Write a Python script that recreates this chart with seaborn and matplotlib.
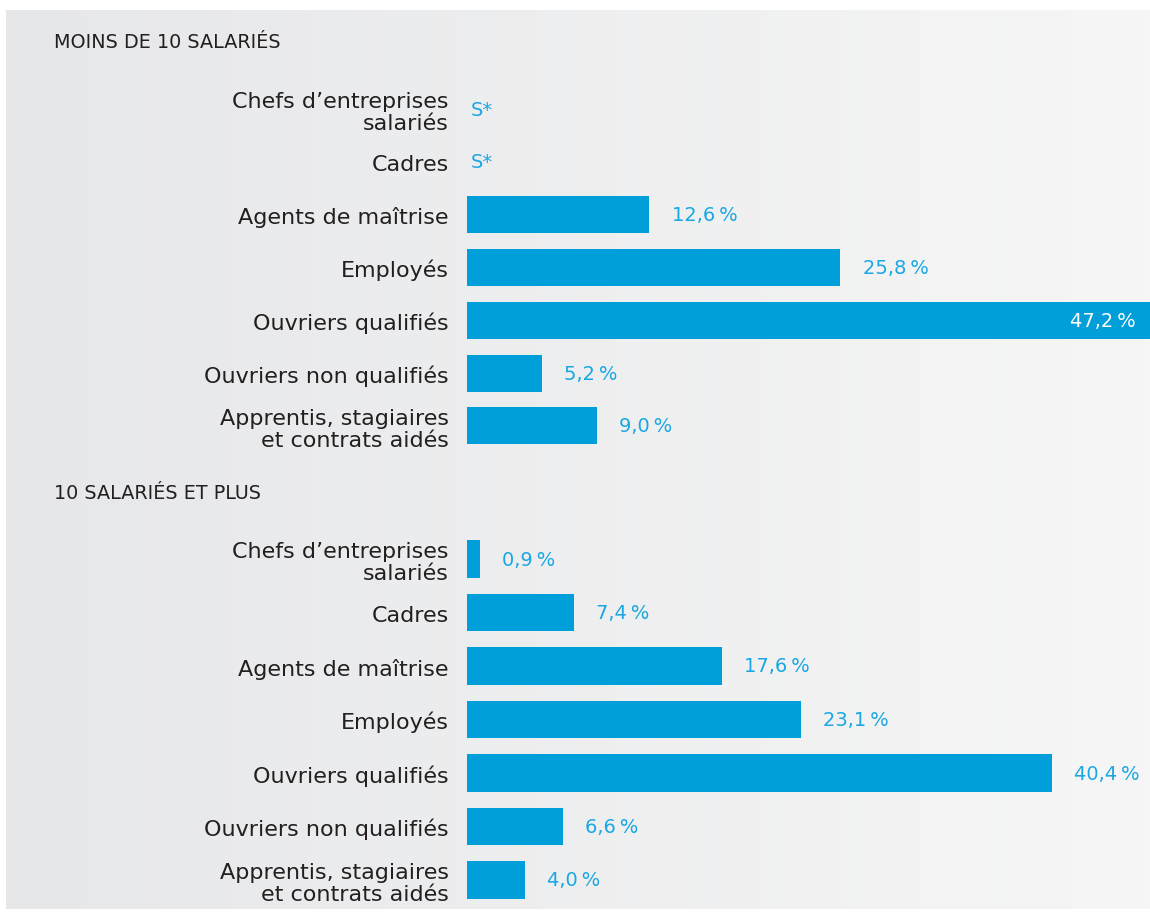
import numpy as np
import matplotlib
matplotlib.use('Agg')
import matplotlib.pyplot as plt
import seaborn as sns

categories = [
    'Chefs d\u2019entreprises\nsalariés',
    'Cadres',
    'Agents de maîtrise',
    'Employés',
    'Ouvriers qualifiés',
    'Ouvriers non qualifiés',
    'Apprentis, stagiaires\net contrats aidés',
]
# None = secret statistique (S*)
small_values = [None, None, 12.6, 25.8, 47.2, 5.2, 9.0]
large_values = [0.9, 7.4, 17.6, 23.1, 40.4, 6.6, 4.0]

panel_titles = ['MOINS DE 10 SALARIÉS', '10 SALARIÉS ET PLUS']

BAR = '#009fda'
LABEL = '#1aa7e3'
TEXT = '#231f20'

sns.set_theme(style='white')
plt.rcParams['font.family'] = ['DejaVu Sans']

fig = plt.figure(figsize=(11.5, 9.2), dpi=100)
fig.patch.set_facecolor('white')

# grey gradient panel behind everything
bg = fig.add_axes([6 / 1150, 10 / 920, 1 - 6 / 1150, 899 / 920], zorder=-10)
grad = np.linspace(0, 1, 256).reshape(1, -1)
bg.imshow(grad, aspect='auto', cmap=matplotlib.colors.LinearSegmentedColormap.from_list('g', ['#e6e7e9', '#f6f6f6']),
          extent=[0, 1, 0, 1])
bg.set_axis_off()

x_max = max(v for v in small_values if v is not None)

# axes boxes in figure fraction: [left, bottom, width, height]
boxes = [
    [467 / 1150, 1 - 453.4 / 920, 1 - 467 / 1150, (453.4 - 83.6) / 920],
    [467 / 1150, 1 - 907.75 / 920, 1 - 467 / 1150, (907.75 - 533.25) / 920],
]
title_y = [42, 494]

for values, box, title, ty in zip([small_values, large_values], boxes, panel_titles, title_y):
    ax = fig.add_axes(box)
    ax.patch.set_alpha(0)
    vals = [np.nan if v is None else v for v in values]
    sns.barplot(x=vals, y=categories, orient='h', color=BAR, width=0.7, saturation=1,
                linewidth=0, ax=ax)
    ax.set_xlim(0, x_max)
    ax.set_ylim(len(categories) - 0.5, -0.5)
    for s in ax.spines.values():
        s.set_visible(False)
    ax.set_xticks([])
    ax.set_xlabel('')
    ax.tick_params(axis='y', length=0, pad=13, labelsize=16, labelcolor=TEXT)
    for lab in ax.get_yticklabels():
        lab.set_horizontalalignment('right')
        lab.set_linespacing(1.15)

    for i, v in enumerate(values):
        if v is None:
            ax.annotate('S*', (0, i), xytext=(3, 0), textcoords='offset points',
                        va='center', ha='left', color=LABEL, fontsize=14)
        elif v >= x_max * 0.95:
            txt = f'{v:.1f}'.replace('.', ',') + '\u2009%'
            ax.annotate(txt, (v, i), xytext=(-10, 0), textcoords='offset points',
                        va='center', ha='right', color='white', fontsize=14)
        else:
            txt = f'{v:.1f}'.replace('.', ',') + '\u2009%'
            ax.annotate(txt, (v, i), xytext=(16, 0), textcoords='offset points',
                        va='center', ha='left', color=LABEL, fontsize=14)

    fig.text(54 / 1150, 1 - ty / 920, title, ha='left', va='center', fontsize=13.8, color=TEXT)

fig.savefig('out.png', dpi=100, facecolor='white')
plt.close(fig)
